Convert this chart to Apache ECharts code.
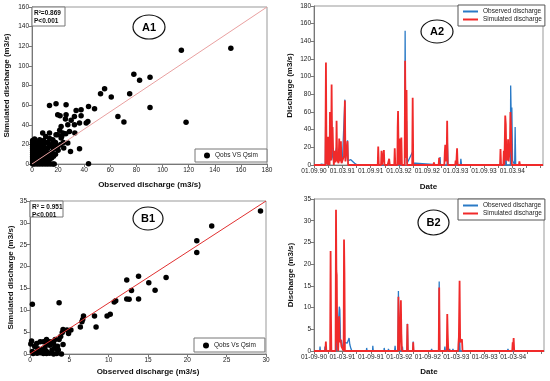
<!DOCTYPE html>
<html><head><meta charset="utf-8">
<script src="https://cdn.jsdelivr.net/npm/echarts@6/dist/echarts.min.js"></script>
<style>html,body{margin:0;padding:0;background:#fff}#c{width:550px;height:381px}</style>
</head><body><div id="c"></div>
<script>
// ---------- DATA ----------
const dateLabelsA = ['01.09.90','01.03.91','01.09.91','01.03.92','01.09.92','01.03.93','01.09.93','01.03.94'];
const dateLabelsB = ['01-09-90','01-03-91','01-09-91','01-03-92','01-09-92','01-03-93','01-09-93','01-03-94'];

// A1 scatter: [observed, simulated] (m3/s)
const scatterA1 = [
 [152.3,117.9],[114.4,115.8],[118,42.5],[78,91.4],[82.4,85.3],[90.4,88.3],[90.4,57.7],[74.8,71.7],
 [55.6,76.8],[52.5,71.7],[60.7,68.3],[65.8,48.5],[70.4,42.8],[43.3,0.3],[47.9,56.4],[43.3,58.7],
 [37.6,55.3],[33.8,54.6],[26.1,60.4],[18.4,61.5],[13.4,59.7],[19.7,50.3],[21.5,49.2],[26.1,50.3],
 [25.6,45.8],[32.5,48.5],[37.6,49.2],[30,44.5],[36.4,41.8],[41.5,41.8],[42.8,43.4],[32.5,40],
 [22.3,38.3],[27.4,40],[8.2,31.6],[13.4,31.6],[18.4,29.9],[23.6,31.6],[28.7,33.2],[15.9,24.8],
 [22.3,26.5],[27.4,21.4],[29.5,12.8],[36.4,15.6],[24.3,16.3],[32.8,31.6],[21.2,34.3],[25.9,30.9],
 [11,21.4],[5.9,24.8],[2,25.5],[16.1,23.1],[19.5,29.9],[22.8,28.2],
 [0.5,0],[0.5,2],[0.5,4],[0.5,6],[0.5,8],[0.5,10],[0.5,12],[0.5,14],[0.5,16],[0.5,18],[0.5,20],[0.5,22],[0.5,24],
 [1.5,1],[1.5,3],[1.5,5],[1.5,7],[1.5,9],[1.5,11],[1.5,13],[1.5,15],[1.5,17],[1.5,19],[1.5,21],
 [3,1],[3,3],[3,5],[3,7],[3,9],[3,11],[3,13],[3,15],[3,17],[3,19],[3,21],
 [4.5,2],[4.5,6],[4.5,10],[4.5,14],[4.5,18],[4.5,22],
 [6,2],[6,5],[6,8],[6,11],[6,14],[6,17],[6,20],[7.5,3],[7.5,7],[7.5,12],[7.5,16],[7.5,22],
 [9,2],[9,5],[9,9],[9,13],[9,18],[9,24],[10.5,4],[10.5,8],[10.5,14],[10.5,28],
 [12,3],[12,7],[12,11],[12,16],[12,22],[13.5,5],[13.5,10],[13.5,18],[13.5,26],
 [15,6],[15,12],[15,20],[16.5,8],[16.5,15],[18,10],[18,17],[18,22],[20,14],[20,18],[22,20],[24,22],
 [2,0],[4,0],[6,0],[8,0],[10,0],[12,0],[14,0],[16,0],[17,0],[5,1],[9,1],[13,1]
];
const fitA1 = [[0,0],[180,160]];

// B1 scatter
const scatterB1 = [
 [29.3,32.7],[23.1,29.3],[21.2,25.9],[21.2,23.2],[17.3,17.5],[15.9,14.6],[15.1,16.3],[13.8,17.8],
 [12.3,16.9],[13.8,12.6],[12.3,12.6],[12.6,12.5],[12.9,14.5],[10.7,11.9],[10.9,12.2],[10.2,9.1],
 [9.8,8.7],[8.2,8.7],[8.4,6.2],[6.8,8.7],[6.7,7.9],[6.6,7.4],[6.4,6.2],[3.7,11.7],[0.3,11.4],
 [5.2,5.5],[4.9,4.7],[4.2,5.6],[4.7,5.5],[4.1,4.9],[3.9,4.0],[3.7,3.3],[4.2,2.2],[4.0,0],
 [3.2,3.3],[3.0,2.4],[2.5,2.8],[2.1,3.3],[1.7,2.8],[1.3,2.8],[0.85,2.4],[0.2,3.0],[0.1,2.3],[0.6,1.7],
 [0.4,0.1],[0.9,0.2],[1.3,0.3],[1.7,0.1],[2.1,0.1],[2.5,0.2],[3.0,0],[3.4,0.1],[2.1,0.6],[1.3,0.7],
 [2.8,0.9],[3.4,1.2],[3.6,0.9],[1.5,1],[1.9,1.5],[2.5,2.0],[3.1,1.4],[3.5,1.8],[0.3,0.6],[1.0,1.2],[2.2,2.4],[2.9,2.8]
];
const fitB1 = [[0,0],[30,35]];

// A2 time series: [months since 01.09.1990, discharge]
const obsA2 = [[0,0],[1.0,0],[1.1,1],[1.6,1],[1.7,0],[2.4,0],[2.53,90],[2.65,3],[2.9,0],[3.38,30],[3.5,5],[3.73,50],[3.9,10],
 [4.2,4],[4.78,20],[4.9,5],[5.34,12],[5.7,8],[6.0,3],[6.35,5],[6.54,74],[6.66,5],[6.9,3],[7.1,28],[7.22,5],[7.5,6],
 [7.8,6],[8.2,4],[8.6,2],[9.0,1],[9.2,0],[13.6,0],[13.7,2],[13.8,0],[17.8,0],[17.85,15],[18.0,0],[19.2,0],[19.3,152],
 [19.42,30],[19.6,50],[19.72,2],[20.9,15],[21.0,2],[21.5,2],[21.8,0],[26.6,0],[26.7,9],[26.8,0],[28.2,0],[28.25,25],
 [28.4,0],[30.3,0],[30.35,6],[30.45,0],[31.0,0],[31.1,7],[31.25,0],[40.5,0],[40.6,20],[40.75,0],[41.6,0],[41.65,90],
 [41.8,45],[41.9,65],[42.05,5],[42.5,0],[42.6,43],[42.72,0],[48.5,0]];
const simA2 = [[0,0],[2.4,0],[2.53,116],[2.65,4],[2.9,0],[3.0,32],[3.12,6],[3.3,0],[3.38,60],[3.5,22],[3.62,5],[3.73,91],
 [3.84,18],[3.94,43],[4.05,17],[4.2,0],[4.43,16],[4.55,3],[4.7,8],[4.78,50],[4.9,6],[5.1,8],[5.2,2],[5.34,30],[5.45,4],
 [5.7,27],[5.82,2],[6.2,4],[6.35,10],[6.54,73],[6.66,4],[7.0,5],[7.1,27],[7.22,0],[13.5,0],[13.6,21],[13.72,0],[14.2,0],
 [14.3,16],[14.42,0],[14.7,0],[14.8,17],[14.92,0],[15.6,0],[15.68,2],[15.8,0],[15.92,7],[16.05,0],[17.0,0],[17.1,19],
 [17.22,0],[17.65,0],[17.72,42],[17.8,61],[17.9,20],[18.05,0],[18.1,30],[18.2,3],[18.4,0],[18.5,31],[18.62,0],[19.2,0],
 [19.3,118],[19.42,8],[19.6,85],[19.72,0],[20.8,0],[20.9,76],[21.02,0],[25.3,0],[25.4,3],[25.5,0],[26.4,0],[26.5,8],
 [26.62,0],[27.6,0],[27.7,14],[27.8,23],[27.92,4],[28.1,10],[28.2,50],[28.32,0],[29.9,0],[30.0,5],[30.12,0],[30.3,19],
 [30.42,0],[39.4,0],[39.5,18],[39.62,0],[40.1,0],[40.2,16],[40.32,0],[40.42,0],[40.5,56],[40.62,46],[40.75,5],[41.0,8],
 [41.1,29],[41.22,4],[41.5,20],[41.6,60],[41.75,40],[41.9,0],[43.4,0],[43.5,4],[43.62,0],[48.5,0]];

// B2 time series
const obsB2 = [[0,0],[1.2,0],[1.27,1],[1.35,0],[2.25,0],[2.3,1],[2.4,0],[3.5,0],[3.55,2],[3.65,0],[4.64,0],[4.7,3],[4.85,0],
 [5.2,0],[5.34,10.2],[5.45,9.5],[5.6,2],[5.8,2.5],[6.0,1],[6.33,0],[6.45,2],[6.7,2],[7.0,1.8],[7.2,2],[7.4,3],[7.55,1.5],
 [7.8,0.5],[8.0,0],[11.05,0],[11.1,0.7],[11.2,0],[12.35,0],[12.4,1.2],[12.5,0],[14.75,0],[14.8,0.7],[14.9,0],[15.65,0],
 [15.7,0.5],[15.8,0],[17.0,0],[17.1,1.2],[17.2,0],[17.7,0],[17.8,13.8],[17.95,1.5],[18.1,0],[18.6,0],[18.65,1],[18.75,0],
 [19.6,0],[19.7,6.3],[19.8,0],[20.85,0],[20.92,2.2],[21.0,0],[24.7,0],[24.8,0.5],[24.9,0],[26.3,0],[26.4,16],[26.5,0],
 [27.5,0],[27.6,1],[27.7,0],[28.5,0],[28.6,0.5],[28.7,0],[29.2,0],[29.3,0.5],[29.4,0],[30.6,0],[30.7,3],[30.8,0],
 [32.4,0],[32.5,0.3],[32.6,0],[36.8,0],[36.9,0.3],[37.0,0],[40.8,0],[40.9,0.5],[41.0,0],[48.5,0]];
const simB2 = [[0,0],[2.4,0],[2.5,2.2],[2.6,0],[3.4,0],[3.5,23],[3.58,8],[3.66,0],[4.55,0],[4.64,32.5],[4.72,18.5],[4.8,17.5],
 [4.9,3],[5.1,0],[5.3,8],[5.4,2],[5.6,2.7],[5.8,1],[6.25,0],[6.33,25.7],[6.42,18],[6.52,0],[17.7,0],[17.8,12.5],[17.9,2],
 [18.05,0],[18.25,0],[18.32,11.7],[18.42,4],[18.55,0],[19.6,0],[19.7,6.2],[19.8,0],[20.85,0],[20.92,2],[21.0,0],[26.3,0],
 [26.4,14.6],[26.5,0],[28.0,0],[28.1,8.5],[28.2,3.8],[28.32,0],[30.4,0],[30.45,1.4],[30.55,3.2],[30.7,16.2],[30.82,2],
 [31.2,2.7],[31.32,0],[41.8,0],[41.9,2],[42.0,1],[42.1,3],[42.22,0],[48.5,0]];

// ---------- STYLE ----------
const FONT = 'Liberation Sans, Arial, sans-serif';
const BLUE = '#2a7ac6', RED = '#f02a2a';
const tickLbl = {fontSize: 6.5, color: '#222', fontFamily: FONT, margin: 3};
const axName = {fontSize: 8, fontWeight: 'bold', color: '#111', fontFamily: FONT};
const axLine = {lineStyle: {color: '#777', width: 1}};
const axTick = {length: 3, lineStyle: {color: '#777'}};

function valAxis(idx, min, max, interval, name, gap, extra) {
  return Object.assign({type: 'value', gridIndex: idx, min, max, interval, name, nameLocation: 'middle', nameGap: gap,
    nameTextStyle: axName, axisLine: axLine, axisTick: axTick, axisLabel: tickLbl, splitLine: {show: false}}, extra || {});
}
function dateAxis(idx, labels, gap) {
  return valAxis(idx, 0, 48.5, 3, 'Date', gap, {axisLabel: Object.assign({}, tickLbl, {
    showMaxLabel: false,
    formatter: v => (Math.abs(v % 6) < 1e-6 && labels[v / 6] !== undefined) ? labels[v / 6] : ''})});
}

const grids = [
  {left: 32, top: 7, width: 235, height: 157},
  {left: 314, top: 6, width: 229, height: 159},
  {left: 30, top: 201, width: 236, height: 153},
  {left: 314, top: 199, width: 230, height: 152}
].map(g => Object.assign(g, {show: true, borderColor: '#999', borderWidth: 1}));

function tsSeries(name, data, color, xi, w) {
  return {name, type: 'line', xAxisIndex: xi, yAxisIndex: xi, data, showSymbol: false, symbol: 'none',
    lineStyle: {color, width: w}, itemStyle: {color}, animation: false};
}

function circleLabel(cx, cy, rx, ry, txt) {
  return [{type: 'ellipse', shape: {cx, cy, rx, ry}, style: {fill: '#fff', stroke: '#111', lineWidth: 1.2}, z: 100},
    {type: 'text', x: cx, y: cy + 0.5, style: {text: txt, font: 'bold 11px ' + FONT, fill: '#000',
      align: 'center', verticalAlign: 'middle', textAlign: 'center', textVerticalAlign: 'middle'}, z: 101}];
}
function statBox(x, y, w, h, l1, l2) {
  return [{type: 'rect', shape: {x, y, width: w, height: h}, style: {fill: '#fff', stroke: '#777', lineWidth: 1}, z: 100},
    {type: 'text', x: x + 2, y: y + 2, style: {text: l1 + '\n' + l2, font: 'bold 6.5px ' + FONT, fill: '#111', lineHeight: 8}, z: 101}];
}

const legendText = {fontSize: 6.5, color: '#222', fontFamily: FONT};
const option = {
  backgroundColor: '#fff',
  animation: false,
  grid: grids,
  xAxis: [
    valAxis(0, 0, 180, 20, 'Observed discharge (m3/s)', 17),
    dateAxis(1, dateLabelsA, 18),
    valAxis(2, 0, 30, 5, 'Observed discharge (m3/s)', 14),
    dateAxis(3, dateLabelsB, 17)
  ],
  yAxis: [
    valAxis(0, 0, 160, 20, 'Simulated discharge (m3/s)', 21),
    valAxis(1, 0, 180, 20, 'Discharge (m3/s)', 20),
    valAxis(2, 0, 35, 5, 'Simulated discharge (m3/s)', 15),
    valAxis(3, 0, 35, 5, 'Discharge (m3/s)', 19)
  ],
  legend: [
    {data: ['Qobs VS Qsim'], left: 195, top: 149, icon: 'circle', itemWidth: 6, itemHeight: 6, itemGap: 2,
      padding: [3, 9, 3, 9], textStyle: legendText, borderColor: '#777', borderWidth: 1, backgroundColor: '#fff'},
    {data: ['Observed discharge', 'Simulated discharge'], left: 458, top: 5, orient: 'vertical', icon: 'rect',
      itemWidth: 15, itemHeight: 2, itemGap: 1, padding: [3, 3, 3, 5], textStyle: legendText,
      borderColor: '#555', borderWidth: 1, backgroundColor: '#fff'},
    {data: ['Qobs Vs Qsim'], left: 194, top: 338, icon: 'circle', itemWidth: 6, itemHeight: 6,
      padding: [4, 9, 3, 9], textStyle: legendText, borderColor: '#777', borderWidth: 1, backgroundColor: '#fff'},
    {data: ['Observed discharge', 'Simulated discharge'], left: 458, top: 199, orient: 'vertical', icon: 'rect',
      itemWidth: 15, itemHeight: 2, itemGap: 1, padding: [3, 3, 3, 5], textStyle: legendText,
      borderColor: '#555', borderWidth: 1, backgroundColor: '#fff'}
  ],
  series: [
    {type: 'line', xAxisIndex: 0, yAxisIndex: 0, data: fitA1, showSymbol: false, lineStyle: {color: '#e9a0a0', width: 1}, silent: true},
    {name: 'Qobs VS Qsim', type: 'scatter', xAxisIndex: 0, yAxisIndex: 0, data: scatterA1, symbolSize: 5.5, itemStyle: {color: '#000', opacity: 1}},
    tsSeries('Observed discharge', obsA2, BLUE, 1, 1.3),
    tsSeries('Simulated discharge', simA2, RED, 1, 1.8),
    {type: 'line', xAxisIndex: 2, yAxisIndex: 2, data: fitB1, showSymbol: false, lineStyle: {color: '#e03030', width: 1}, silent: true},
    {name: 'Qobs Vs Qsim', type: 'scatter', xAxisIndex: 2, yAxisIndex: 2, data: scatterB1, symbolSize: 5.5, itemStyle: {color: '#000', opacity: 1}},
    tsSeries('Observed discharge', obsB2, BLUE, 3, 1.3),
    tsSeries('Simulated discharge', simB2, RED, 3, 1.8)
  ],
  graphic: [].concat(
    circleLabel(149, 27, 16, 12, 'A1'),
    circleLabel(437, 31.5, 16, 11.5, 'A2'),
    circleLabel(148, 218.5, 15, 11.5, 'B1'),
    circleLabel(433.5, 222.5, 15.5, 12.5, 'B2'),
    statBox(32, 7, 33, 19, 'R²=0.869', 'P<0.001'),
    statBox(30, 201, 33, 16, 'R² = 0.951', 'P<0.001')
  )
};
const chart = echarts.init(document.getElementById('c'), null, {renderer: 'canvas'});
chart.setOption(option);
</script></body></html>
